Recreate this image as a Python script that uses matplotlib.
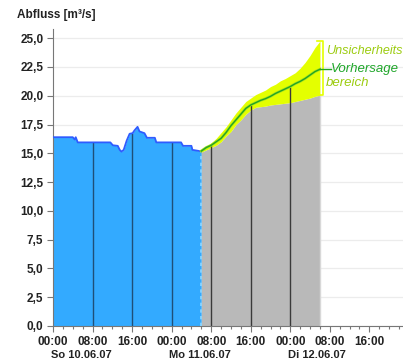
import matplotlib
matplotlib.use("Agg")
import matplotlib.pyplot as plt
from matplotlib.ticker import MultipleLocator, FixedLocator, FuncFormatter

plt.rcParams['font.family'] = ['Liberation Sans Narrow', 'Liberation Sans', 'DejaVu Sans']

# Observed discharge (hours since So 10.06.07 00:00, m³/s)
obs_hours = [0, 4.0, 4.4, 4.6, 5.0, 11.6, 12.1, 13.1, 13.5, 13.85, 14.3, 14.9, 15.5,
             16.1, 16.5, 17.1, 17.5, 18.5, 19.0, 20.6, 20.9, 25.9, 26.3, 28.0,
             28.2, 29.6, 30.0]
obs_vals = [16.4, 16.4, 16.2, 16.4, 15.95, 15.95, 15.7, 15.65, 15.3, 15.15, 15.3, 16.1, 16.7,
            16.75, 17.0, 17.3, 16.9, 16.75, 16.35, 16.35, 15.95, 15.95, 15.65, 15.65,
            15.3, 15.2, 15.15]

# Forecast (hourly) with uncertainty range
fc_hours = list(range(30, 55))
fc_median = [15.2, 15.5, 15.7, 16.0, 16.3, 16.8, 17.4, 17.9, 18.4, 18.9, 19.2, 19.4, 19.6,
             19.75, 19.95, 20.2, 20.4, 20.6, 20.8, 21.05, 21.25, 21.5, 21.8, 22.1, 22.3]
fc_lower = [15.1, 15.3, 15.5, 15.7, 16.0, 16.5, 16.9, 17.5, 17.9, 18.4, 18.75, 19.0, 19.05,
            19.1, 19.2, 19.25, 19.3, 19.35, 19.4, 19.5, 19.6, 19.7, 19.8, 19.95, 20.05]
fc_upper = [15.3, 15.6, 15.9, 16.3, 16.8, 17.3, 17.9, 18.5, 19.0, 19.5, 19.8, 20.1, 20.3,
            20.5, 20.8, 21.0, 21.3, 21.5, 21.75, 22.0, 22.4, 22.9, 23.5, 24.2, 24.75]

y_ticks = [0, 2.5, 5, 7.5, 10, 12.5, 15, 17.5, 20, 22.5, 25]
time_labels = ["00:00", "08:00", "16:00"]
day_labels = ["So 10.06.07", "Mo 11.06.07", "Di 12.06.07"]
day_hours = [0, 24, 48]

W, H = 403, 363
fig = plt.figure(figsize=(W / 100, H / 100), dpi=100)
ax = fig.add_axes([53 / W, (H - 326) / H, (W - 53) / W, (326 - 29) / H])
ax.set_xlim(0, 70.8)
ax.set_ylim(0, 25.8)

# horizontal grid
for yv in y_ticks:
    ax.axhline(yv, color="#ececec", lw=0.9, zorder=0)

# observed area
ax.fill_between(obs_hours, 0, obs_vals, color="#33aaff", lw=0, zorder=2)
ax.plot(obs_hours, obs_vals, color="#2f5cff", lw=1.3, zorder=4)

# forecast: lower bound area (grey) and uncertainty band (yellow)
ax.fill_between(fc_hours, 0, fc_lower, color="#b9b9b9", lw=0, zorder=2)
ax.fill_between(fc_hours, fc_lower, fc_upper, color="#e4ff00", lw=0, zorder=2)
ax.plot(fc_hours, fc_median, color="#a8e020", lw=2.0, zorder=4)
ax.plot(fc_hours, fc_median, color="#22a622", lw=1.0, zorder=5)
ax.vlines(fc_hours[-1], 0, fc_lower[-1], color="#d8d8d8", lw=1, zorder=3)

# boundary between observation and forecast
ax.vlines(obs_hours[-1], 0, obs_vals[-1], color="#8fd8ff", lw=1.2, linestyles=(0, (2, 2)), zorder=3)

# vertical marks at main ticks inside the filled areas
def value_at(hours, vals, h):
    for i in range(len(hours) - 1):
        if hours[i] <= h <= hours[i + 1]:
            t = (h - hours[i]) / (hours[i + 1] - hours[i])
            return vals[i] + t * (vals[i + 1] - vals[i])
    return vals[-1]

for h in [8, 16, 24]:
    ax.vlines(h, 0, value_at(obs_hours, obs_vals, h), color="#1f4f78", lw=1.0, zorder=3)
for h in [32, 40, 48]:
    ax.vlines(h, 0, fc_median[fc_hours.index(h)], color="#3a3a3a", lw=1.0, zorder=3)

# axes styling
for s in ["top", "right"]:
    ax.spines[s].set_visible(False)
ax.spines["left"].set_color("#777777")
ax.spines["bottom"].set_color("#777777")
ax.yaxis.set_major_locator(FixedLocator(y_ticks))
ax.yaxis.set_major_formatter(FuncFormatter(lambda v, p: f"{v:.1f}".replace(".", ",")))
ax.xaxis.set_major_locator(MultipleLocator(8))
ax.xaxis.set_minor_locator(MultipleLocator(2))
ax.xaxis.set_major_formatter(FuncFormatter(lambda v, p: time_labels[int(round(v / 8)) % 3]))
ax.tick_params(axis="both", which="major", length=4, width=0.8, color="#777777",
               labelsize=8.5, labelcolor="#222222", pad=3)
ax.tick_params(axis="x", which="minor", length=2.5, width=0.8, color="#777777")
for lab in ax.get_xticklabels() + ax.get_yticklabels():
    lab.set_fontweight("bold")

# day labels below time labels
for h, lab in zip(day_hours, day_labels):
    ax.text(h - 0.5, -0.098, lab, transform=ax.get_xaxis_transform(), ha="left", va="center",
            fontsize=8, fontweight="bold", color="#222222", clip_on=False)

# title
fig.text(17 / W, 1 - 15 / H, "Abfluss [m³/s]", ha="left", va="center", fontsize=8.5,
         fontweight="bold", color="#222222")

# uncertainty bracket and legend texts
xe = fc_hours[-1]
ax.plot([xe - 0.6, xe + 0.6, xe + 0.6, xe - 0.6], [fc_upper[-1], fc_upper[-1], fc_lower[-1], fc_lower[-1]],
        color="#e4ff00", lw=1.2, zorder=6, clip_on=False)
ax.plot([xe, xe + 2.3], [fc_median[-1], fc_median[-1]], color="#22a622", lw=1.0, zorder=6, clip_on=False)
ax.text(xe + 1.2, 23.9, "Unsicherheits", color="#9ccc10", fontsize=9.1, style="italic",
        family=["Liberation Sans", "DejaVu Sans"], ha="left", va="center", clip_on=False)
ax.text(xe + 2.3, fc_median[-1], "Vorhersage", color="#1fa62a", fontsize=9.5, style="italic",
        family=["Liberation Sans", "DejaVu Sans"], ha="left", va="center", clip_on=False)
ax.text(xe + 1.2, 21.1, "bereich", color="#9ccc10", fontsize=9.5, style="italic",
        family=["Liberation Sans", "DejaVu Sans"], ha="left", va="center", clip_on=False)

fig.savefig("out.png", dpi=100)
